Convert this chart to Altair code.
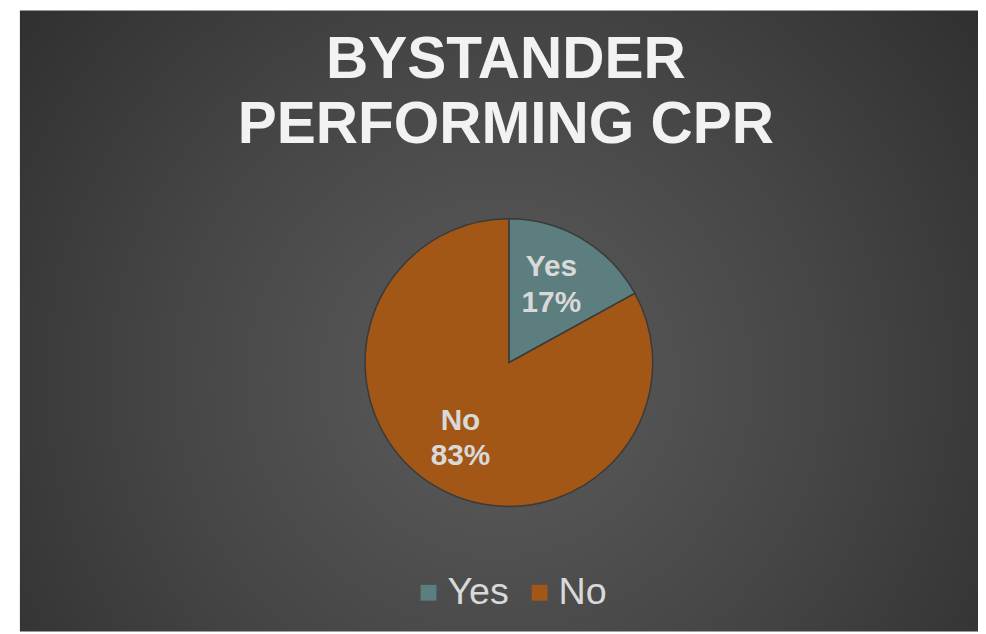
import altair as alt
import pandas as pd

categories = ["Yes", "No"]
values = [17, 83]
percent_labels = ["17%", "83%"]
colors = ["#5d7e7e", "#a35716"]
title_lines = ["BYSTANDER", "PERFORMING CPR"]

df = pd.DataFrame({
    "category": categories,
    "value": values,
    "idx": list(range(len(categories))),
    "label": [f"{c}\n{p}" for c, p in zip(categories, percent_labels)],
})

W, H = 978, 626
TOP = 175
PH = H - TOP
FONT = "Liberation Sans"
CX, CY = 505, 180

bg = alt.Chart(pd.DataFrame({"a": [0]})).mark_rect(
    fill=alt.Gradient(
        gradient="radial",
        stops=[alt.GradientStop(color="#5c5c5c", offset=0),
               alt.GradientStop(color="#464646", offset=0.45),
               alt.GradientStop(color="#272727", offset=1)],
        x1=0.5, y1=0.56, r1=0, x2=0.5, y2=0.56, r2=0.75,
    )
).encode(
    x=alt.value(12), x2=alt.value(W), y=alt.value(-TOP), y2=alt.value(PH)
)

title = alt.Chart(pd.DataFrame({"t": ["\n".join(title_lines)]})).mark_text(
    fontSize=59, fontWeight="bold", font=FONT, color="#f2f2f2",
    lineBreak="\n", lineHeight=66, baseline="alphabetic", align="center",
).encode(
    text="t:N", x=alt.value(502), y=alt.value(-107)
)

color_scale = alt.Scale(domain=categories, range=colors)

pie = alt.Chart(df).mark_arc(outerRadius=145, stroke="#3a3a3a", strokeWidth=1.5).encode(
    theta=alt.Theta("value:Q", stack=True),
    color=alt.Color("category:N", scale=color_scale,
                    legend=alt.Legend(
                        orient="none", legendX=405, legendY=393,
                        direction="horizontal", title=None,
                        symbolType="square", symbolSize=256,
                        symbolStrokeWidth=0, labelFontSize=38,
                        labelColor="#d9d9d9", labelFont=FONT,
                        columnPadding=12, labelOffset=0, padding=0,
                    )),
    order=alt.Order("idx:Q"),
    x=alt.value(CX), y=alt.value(CY),
)

labels = alt.Chart(df).mark_text(
    radius=90, fontSize=30, fontWeight="bold", font=FONT, dy=-19, dx=-3,
    color="#d9d9d9", lineBreak="\n", lineHeight=36, baseline="middle", align="center",
).encode(
    theta=alt.Theta("value:Q", stack=True),
    order=alt.Order("idx:Q"),
    text="label:N",
    x=alt.value(CX), y=alt.value(CY),
)

chart = alt.layer(bg, title, pie, labels).properties(
    width=W, height=PH,
    autosize=alt.AutoSizeParams(type="none"),
    padding={"left": 0, "top": TOP, "right": 0, "bottom": 0},
    background="white",
).configure_view(stroke=None)

chart.save("out.html", embed_options={"renderer": "svg", "actions": False})
